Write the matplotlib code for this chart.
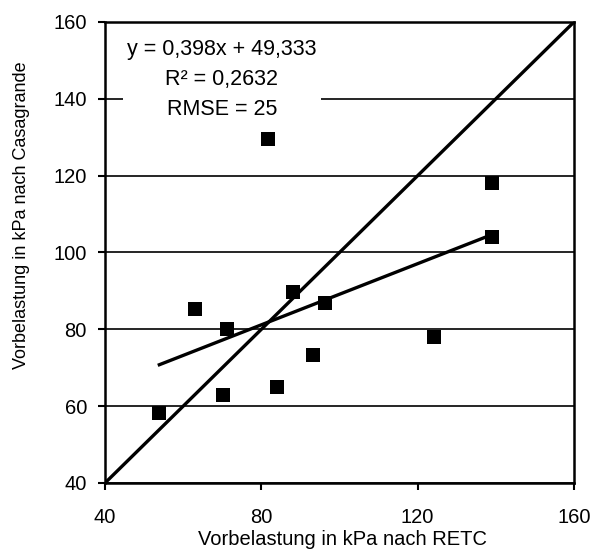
import numpy as np
import matplotlib
matplotlib.use("Agg")
import matplotlib.pyplot as plt

plt.rcParams['font.family'] = ['Liberation Sans', 'DejaVu Sans']

# Vorbelastung nach RETC (x) und nach Casagrande (y), kPa
retc = [53.9, 63.0, 71.1, 70.1, 81.8, 83.9, 88.0, 93.2, 96.2, 124.2, 139.0, 139.0]
casagrande = [58.1, 85.2, 80.0, 62.8, 129.5, 64.9, 89.6, 73.2, 86.8, 77.9, 118.0, 104.0]

slope = 0.398
intercept = 49.333
stats_text = "y = 0,398x + 49,333\nR² = 0,2632\nRMSE = 25"

x_ticks = [40, 80, 120, 160]
y_ticks = [40, 60, 80, 100, 120, 140, 160]

fig = plt.figure(figsize=(5.94, 5.5), dpi=100)
ax = fig.add_axes([105 / 594, 1 - 483 / 550, 469 / 594, 461 / 550])

ax.set_xlim(40, 160)
ax.set_ylim(40, 160)
ax.set_xticks(x_ticks)
ax.set_yticks(y_ticks)
ax.yaxis.grid(True, color='black', linewidth=1.2, zorder=0)
ax.set_axisbelow(True)

# 1:1 Linie
ax.plot([40, 160], [40, 160], color='black', linewidth=2.4, zorder=2)

# Regressionsgerade
xr = np.array([min(retc), max(retc)])
ax.plot(xr, slope * xr + intercept, color='black', linewidth=2.4, zorder=2)

ax.scatter(retc, casagrande, marker='s', s=90, color='black', zorder=3, linewidths=0)

ax.text(69.9, 145.0, stats_text, ha='center', va='center', fontsize=15.5,
        linespacing=1.57, zorder=4,
        bbox=dict(facecolor='white', edgecolor='none', pad=3))

for s in ax.spines.values():
    s.set_linewidth(1.8)
ax.tick_params(axis='both', direction='out', length=5, width=1.5, labelsize=14.5)
ax.tick_params(axis='x', pad=13)
ax.tick_params(axis='y', pad=8)

ax.set_xlabel("Vorbelastung in kPa nach RETC", fontsize=14.5)
ax.xaxis.set_label_coords(0.507, -0.102)
ax.set_ylabel("Vorbelastung in kPa nach Casagrande", fontsize=13)
ax.yaxis.set_label_coords(-0.16, 0.581)

fig.savefig("out.png", dpi=100)
